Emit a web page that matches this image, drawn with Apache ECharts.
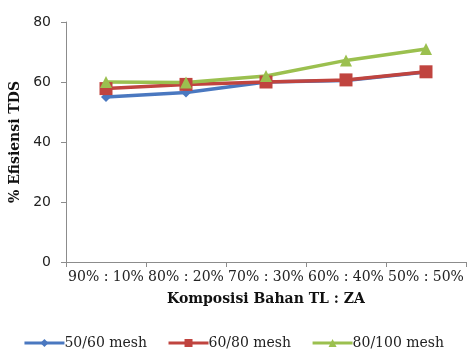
<!DOCTYPE html>
<html><head><meta charset="utf-8">
<script src="https://cdn.jsdelivr.net/npm/echarts@6/dist/echarts.min.js"></script>
<style>html,body{margin:0;padding:0;background:#fff}#c{width:467px;height:360px}</style>
</head><body><div id="c"></div>
<script>
const categories = ['90% : 10%', '80% : 20%', '70% : 30%', '60% : 40%', '50% : 50%'];
const mesh5060 = [55, 56.5, 60, 60.5, 63.3];
const mesh6080 = [57.8, 59.2, 60, 60.7, 63.4];
const mesh80100 = [60, 59.8, 62, 67.2, 71];
const yTicks = { min: 0, max: 80, interval: 20 };
const seriesNames = ['50/60 mesh', '60/80 mesh', '80/100 mesh'];

const chart = echarts.init(document.getElementById('c'), null, { renderer: 'canvas' });
const mk = (name, data, color, symbol, size) => ({
  name, type: 'line', data, symbol, symbolSize: size,
  lineStyle: { color, width: 3.5 }, itemStyle: { color },
  emphasis: { disabled: true }
});
chart.setOption({
  animation: false,
  grid: { left: 66, right: 1, top: 22, bottom: 98, containLabel: false },
  xAxis: {
    type: 'category', data: categories, boundaryGap: true,
    axisLine: { lineStyle: { color: '#8c8c8c', width: 1 } },
    axisTick: { show: true, length: 5, lineStyle: { color: '#8c8c8c' } },
    axisLabel: { interval: 0, margin: 8, color: '#222', fontFamily: 'DejaVu Serif', fontSize: 14 },
    name: 'Komposisi Bahan TL : ZA', nameLocation: 'middle', nameGap: 30,
    nameTextStyle: { fontFamily: 'DejaVu Serif', fontWeight: 'bold', fontSize: 14, color: '#111' }
  },
  yAxis: {
    type: 'value', min: yTicks.min, max: yTicks.max, interval: yTicks.interval,
    splitLine: { show: false },
    axisLine: { show: true, lineStyle: { color: '#8c8c8c', width: 1 } },
    axisTick: { show: true, length: 5, lineStyle: { color: '#8c8c8c' } },
    axisLabel: { margin: 15, color: '#222', fontFamily: 'DejaVu Sans', fontSize: 14 },
    name: '% Efisiensi TDS', nameLocation: 'middle', nameGap: 42, nameRotate: 90,
    nameTextStyle: { fontFamily: 'DejaVu Serif', fontWeight: 'bold', fontSize: 14, color: '#111' }
  },
  legend: {
    bottom: 5, left: 'center', width: 467, itemGap: 20, itemWidth: 40, itemHeight: 10,
    data: seriesNames,
    lineStyle: { width: 3 },
    textStyle: { fontFamily: 'DejaVu Serif', fontSize: 14, color: '#222', padding: [0,0,0,-5] }
  },
  series: [
    mk(seriesNames[0], mesh5060, '#4a78c0', 'diamond', 10),
    mk(seriesNames[1], mesh6080, '#c0443f', 'rect', 13),
    mk(seriesNames[2], mesh80100, '#9bc04f', 'triangle', 12)
  ]
});
</script></body></html>
